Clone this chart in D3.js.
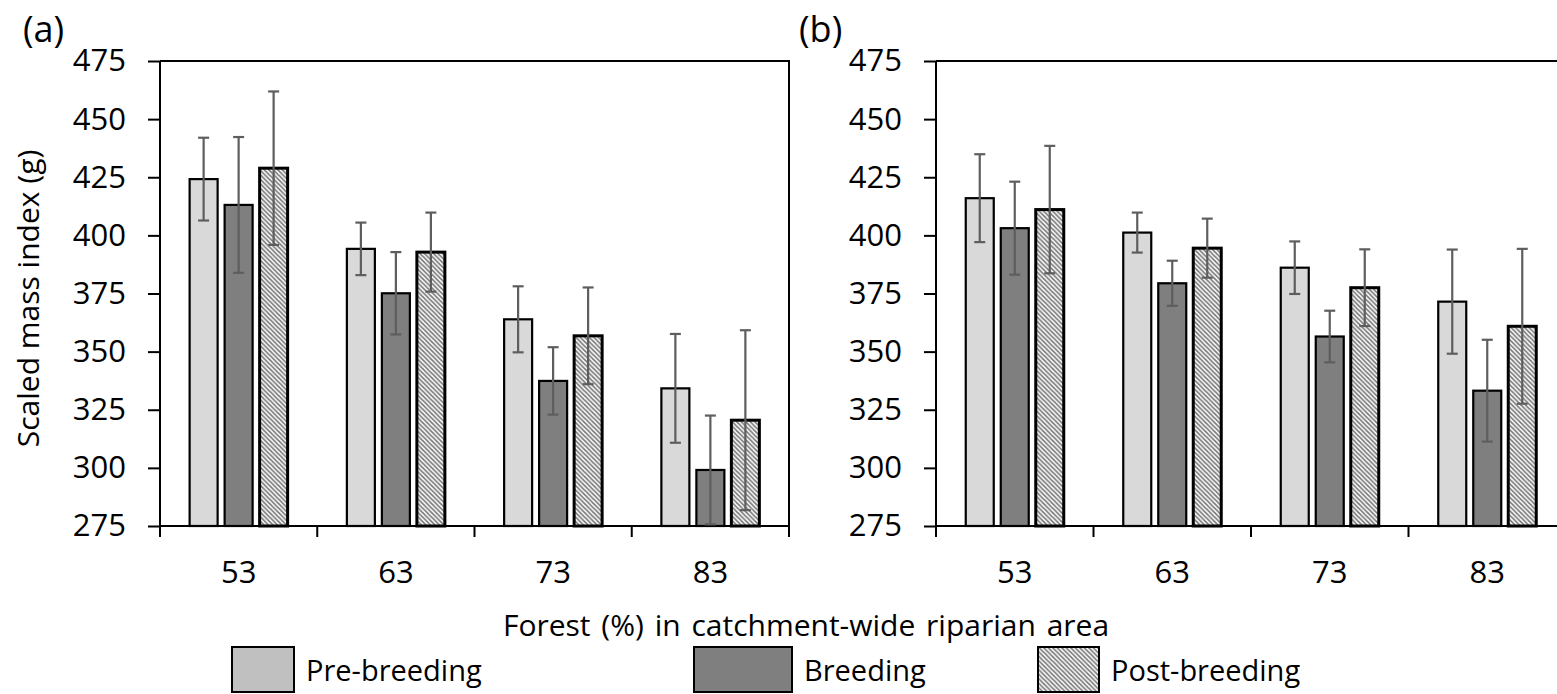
<!DOCTYPE html>
<html>
<head>
<meta charset="utf-8">
<script src="https://cdn.jsdelivr.net/npm/d3@7"></script>
<style>
  html, body { margin: 0; padding: 0; background: #fff; }
  svg { display: block; font-family: "Open Sans", sans-serif; }
</style>
</head>
<body>
<svg id="chart" width="1557" height="694"></svg>
<script>
// Forest cover classes and sampling periods
const categories = ["53", "63", "73", "83"];
const series = ["Pre-breeding", "Breeding", "Post-breeding"];
const yTicks = [275, 300, 325, 350, 375, 400, 425, 450, 475];

// Panel (a): means and error half-widths per series, by forest class
const meansA = {
  "Pre-breeding":  [424.2, 394.2, 363.9, 334.2],
  "Breeding":      [413.1, 375.1, 337.4, 299.1],
  "Post-breeding": [428.9, 392.8, 356.8, 320.5]
};
const errA = {
  "Pre-breeding":  [17.8, 11.3, 14.2, 23.4],
  "Breeding":      [29.2, 17.7, 14.5, 23.4],
  "Post-breeding": [33.0, 17.0, 20.8, 38.7]
};

// Panel (b)
const meansB = {
  "Pre-breeding":  [416.0, 401.2, 386.1, 371.5],
  "Breeding":      [403.1, 379.4, 356.5, 333.2],
  "Post-breeding": [411.1, 394.5, 377.5, 360.9]
};
const errB = {
  "Pre-breeding":  [18.9, 8.6, 11.3, 22.4],
  "Breeding":      [20.0, 9.7, 11.1, 21.9],
  "Post-breeding": [27.4, 12.7, 16.5, 33.3]
};

const svg = d3.select("#chart");

// Hatched fill for the post-breeding bars
const defs = svg.append("defs");
const pat = defs.append("pattern")
  .attr("id", "hatch")
  .attr("patternUnits", "userSpaceOnUse")
  .attr("width", 4.5).attr("height", 4.5);
pat.append("rect").attr("width", 4.5).attr("height", 4.5).attr("fill", "#fff");
pat.append("path")
  .attr("d", "M-1,-1 L5.5,5.5 M-1,3.5 L1,5.5 M3.5,-1 L5.5,1")
  .attr("stroke", "#7a7a7a").attr("stroke-width", 1.7);

const fills = {
  "Pre-breeding": "#d9d9d9",
  "Breeding": "#7f7f7f",
  "Post-breeding": "url(#hatch)"
};
const legendFills = {
  "Pre-breeding": "#c0c0c0",
  "Breeding": "#7f7f7f",
  "Post-breeding": "url(#hatch)"
};

const FONT = 31;
const plotTop = 61, plotBottom = 526;

function drawPanel(left, right, means, errs, tag) {
  const g = svg.append("g");
  const y = d3.scaleLinear().domain([275, 475]).range([plotBottom, plotTop]);
  const x = d3.scaleBand().domain(categories).range([left, right]).padding(0);
  const xs = d3.scalePoint().domain(series).range([-35, 35]);
  const barW = 28;

  // frame: top and right edges
  g.append("path")
    .attr("d", `M${left},${plotTop} H${right} V${plotBottom}`)
    .attr("fill", "none").attr("stroke", "#000").attr("stroke-width", 2);

  // y axis
  const yAxis = d3.axisLeft(y).tickValues(yTicks).tickSize(12).tickPadding(22)
    .tickFormat(d3.format("d"));
  const ya = g.append("g").attr("transform", `translate(${left},0)`).call(yAxis);
  ya.select(".domain").remove();
  ya.selectAll(".tick line").attr("stroke", "#000").attr("stroke-width", 2);
  ya.selectAll(".tick text").attr("font-size", FONT).attr("fill", "#000")
    .attr("font-family", "Open Sans, sans-serif");
  g.append("line").attr("x1", left).attr("x2", left).attr("y1", plotTop).attr("y2", plotBottom)
    .attr("stroke", "#000").attr("stroke-width", 2);

  // x axis: labels at band centres, ticks at band edges
  const xAxis = d3.axisBottom(x).tickSize(0).tickPadding(35);
  const xa = g.append("g").attr("transform", `translate(0,${plotBottom})`).call(xAxis);
  xa.select(".domain").remove();
  xa.selectAll(".tick text").attr("font-size", FONT).attr("fill", "#000")
    .attr("font-family", "Open Sans, sans-serif");
  const edges = categories.map(c => x(c)).concat([x(categories[categories.length - 1]) + x.bandwidth()]);
  g.selectAll(".edge").data(edges).join("line")
    .attr("x1", d => d).attr("x2", d => d)
    .attr("y1", plotBottom).attr("y2", plotBottom + 11)
    .attr("stroke", "#000").attr("stroke-width", 2);

  // bars
  series.forEach(s => {
    const post = s === "Post-breeding";
    g.selectAll(null).data(categories).join("rect")
      .attr("x", (c) => x(c) + x.bandwidth() / 2 + xs(s) - barW / 2)
      .attr("y", (c, i) => y(means[s][i]))
      .attr("width", barW)
      .attr("height", (c, i) => plotBottom - y(means[s][i]))
      .attr("fill", fills[s])
      .attr("stroke", "#000")
      .attr("stroke-width", post ? 3 : 2.2);
  });

  // bottom axis line over bar bases
  g.append("line").attr("x1", left).attr("x2", right).attr("y1", plotBottom).attr("y2", plotBottom)
    .attr("stroke", "#000").attr("stroke-width", 2);

  // error bars
  series.forEach(s => {
    categories.forEach((c, i) => {
      const cx = x(c) + x.bandwidth() / 2 + xs(s);
      const hi = y(means[s][i] + errs[s][i]);
      const lo = y(means[s][i] - errs[s][i]);
      const eg = g.append("g").attr("stroke", "#5e5e5e").attr("stroke-width", 2.2);
      eg.append("line").attr("x1", cx).attr("x2", cx).attr("y1", hi).attr("y2", lo);
      eg.append("line").attr("x1", cx - 5.5).attr("x2", cx + 5.5).attr("y1", hi).attr("y2", hi);
      eg.append("line").attr("x1", cx - 5.5).attr("x2", cx + 5.5).attr("y1", lo).attr("y2", lo);
    });
  });

  // panel tag
  svg.append("text").attr("x", left - 137).attr("y", 42)
    .attr("font-size", 36).attr("fill", "#000").text(tag);
}

drawPanel(160, 789, meansA, errA, "(a)");
drawPanel(936, 1566, meansB, errB, "(b)");

// axis titles
svg.append("text")
  .attr("transform", `translate(39,${(plotTop + plotBottom) / 2 + 5}) rotate(-90)`)
  .attr("text-anchor", "middle").attr("font-size", 30).attr("fill", "#000")
  .text("Scaled mass index (g)");
svg.append("text")
  .attr("x", 806).attr("y", 636)
  .attr("text-anchor", "middle").attr("font-size", 30).attr("fill", "#000")
  .attr("word-spacing", 3)
  .text("Forest (%) in catchment-wide riparian area");

// legend
const legendPos = [
  { x: 232, w: 62 },
  { x: 694, w: 98 },
  { x: 1038, w: 61 }
];
const lg = svg.append("g");
series.forEach((s, i) => {
  const p = legendPos[i];
  lg.append("rect").attr("x", p.x).attr("y", 647).attr("width", p.w).attr("height", 45)
    .attr("fill", legendFills[s]).attr("stroke", "#000").attr("stroke-width", 2);
  lg.append("text").attr("x", p.x + p.w + 12).attr("y", 681)
    .attr("font-size", 29).attr("fill", "#000").text(s);
});
</script>
</body>
</html>
